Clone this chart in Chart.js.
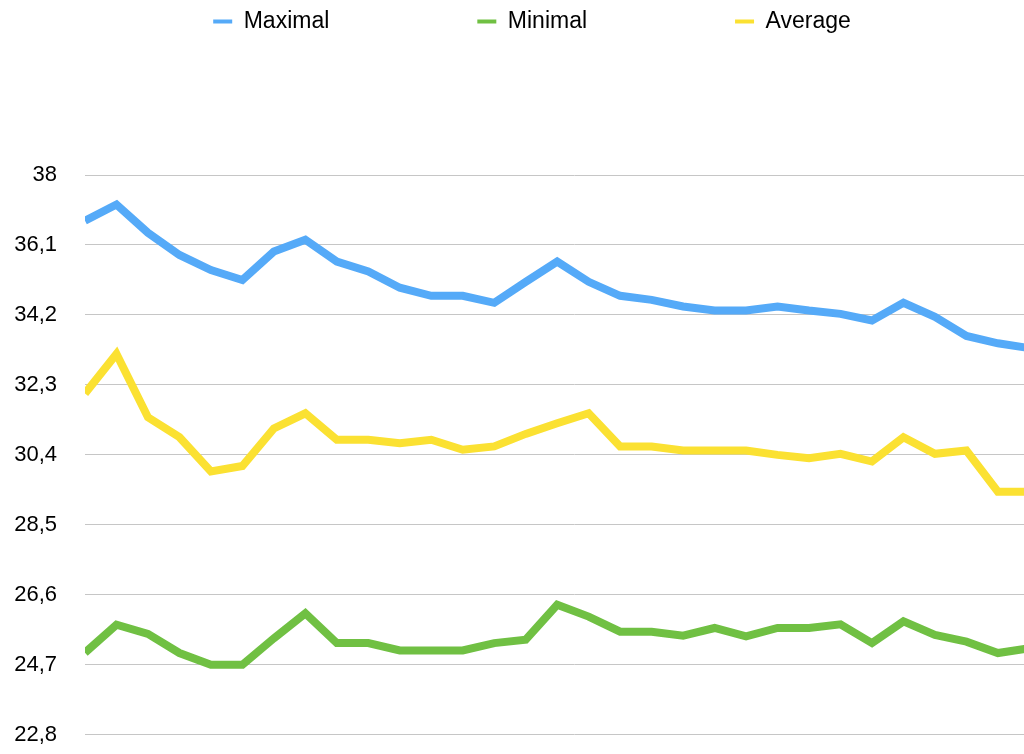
<!DOCTYPE html>
<html>
<head>
<meta charset="utf-8">
<title>Temperature</title>
<script src="https://cdn.jsdelivr.net/npm/chart.js@4.4.0/dist/chart.umd.min.js"></script>
<style>
    html, body { margin: 0; padding: 0; background: #fff; overflow: hidden; }
</style>
</head>
<body>
<canvas id="tempChart" width="1064" height="776"></canvas>
<script>
// days of the month (x), last one runs off the right edge
var days = [1, 2, 3, 4, 5, 6, 7, 8, 9, 10, 11, 12, 13, 14, 15, 16,
            17, 18, 19, 20, 21, 22, 23, 24, 25, 26, 27, 28, 29, 30, 31];

var maxVals = [36.76, 37.2, 36.43, 35.83, 35.42, 35.15, 35.92, 36.24, 35.65, 35.38, 34.94,
               34.72, 34.72, 34.53, 35.1, 35.65, 35.1, 34.72, 34.61, 34.43, 34.32,
               34.32, 34.43, 34.32, 34.23, 34.05, 34.53, 34.15, 33.63, 33.43, 33.3];

var minVals = [25.03, 25.79, 25.54, 25.02, 24.7, 24.7, 25.42, 26.1, 25.29, 25.29, 25.09,
               25.09, 25.09, 25.29, 25.38, 26.33, 26.01, 25.6, 25.6, 25.49, 25.7,
               25.47, 25.7, 25.7, 25.8, 25.29, 25.88, 25.51, 25.33, 25.02, 25.15];

var avgVals = [32.07, 33.14, 31.42, 30.88, 29.95, 30.1, 31.12, 31.53, 30.81, 30.81, 30.72,
               30.81, 30.54, 30.63, 30.97, 31.26, 31.53, 30.63, 30.63, 30.52, 30.52,
               30.52, 30.4, 30.31, 30.43, 30.22, 30.88, 30.43, 30.52, 29.4, 29.4];

var yTicks = [22.8, 24.7, 26.6, 28.5, 30.4, 32.3, 34.2, 36.1, 38];

function toPoints(vals) {
    return vals.map(function (v, i) { return { x: days[i], y: v }; });
}

function series(label, vals, color) {
    return {
        label: label,
        data: toPoints(vals),
        borderColor: color,
        backgroundColor: color,
        borderWidth: 8,
        borderJoinStyle: 'miter',
        borderCapStyle: 'butt',
        tension: 0,
        pointRadius: 0,
        fill: false
    };
}

Chart.defaults.font.family = '"Liberation Sans", Arial, Helvetica, sans-serif';
Chart.defaults.color = '#000';

// push the plot down, leaving the empty band under the legend
var legendGap = {
    id: 'legendGap',
    beforeLayout: function (chart) {
        var legend = chart.legend;
        if (!legend || legend._gapDone) return;
        var fit = legend.fit;
        legend.fit = function () {
            fit.call(this);
            this.height += 132;
        };
        legend._gapDone = true;
    }
};

var ctx = document.getElementById('tempChart').getContext('2d');
var tempChart = new Chart(ctx, {
    type: 'line',
    data: {
        datasets: [
            series('Maximal', maxVals, '#55aaf8'),
            series('Minimal', minVals, '#70c043'),
            series('Average', avgVals, '#fbe132')
        ]
    },
    options: {
        responsive: false,
        animation: false,
        layout: {
            padding: { top: -138, left: 0, right: 0, bottom: 19 }
        },
        scales: {
            x: {
                type: 'linear',
                display: false,
                min: 1,
                max: 32.1
            },
            y: {
                min: 22.8,
                max: 38,
                afterFit: function (scale) { scale.width = 85; },
                afterBuildTicks: function (scale) {
                    scale.ticks = yTicks.map(function (v) { return { value: v }; });
                },
                ticks: {
                    padding: 28,
                    font: { size: 22 },
                    color: '#000',
                    callback: function (v) { return String(v).replace('.', ','); }
                },
                grid: {
                    color: '#c6c6c6',
                    lineWidth: 1,
                    drawTicks: false
                },
                border: { display: false }
            }
        },
        plugins: {
            legend: {
                position: 'top',
                labels: {
                    boxWidth: 19,
                    boxHeight: 4,
                    padding: 148,
                    font: { size: 23 },
                    color: '#000',
                    generateLabels: function (chart) {
                        var items = Chart.defaults.plugins.legend.labels.generateLabels(chart);
                        items.forEach(function (it) {
                            it.fillStyle = it.strokeStyle;
                            it.lineWidth = 0;
                        });
                        return items;
                    }
                }
            },
            tooltip: { enabled: false }
        }
    },
    plugins: [legendGap]
});
</script>
</body>
</html>
